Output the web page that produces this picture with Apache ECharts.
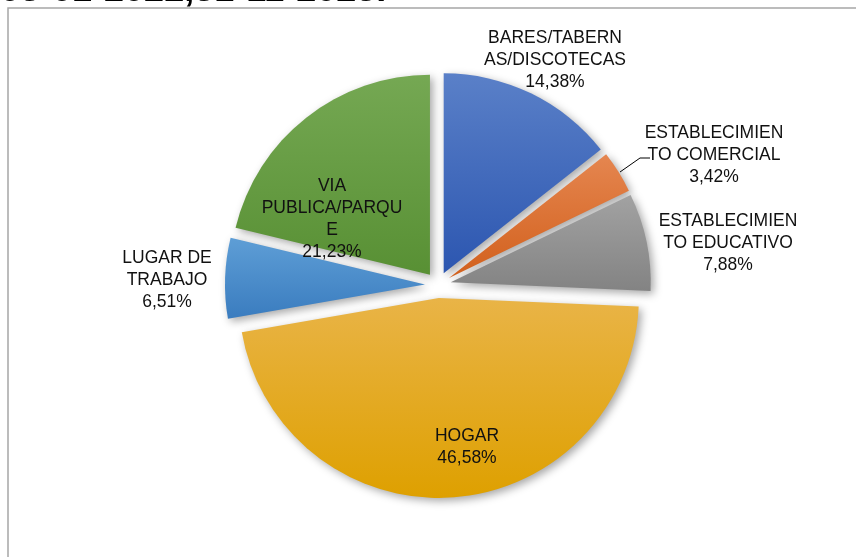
<html>
<head>
    <meta charset="utf-8" />
    <title>Lugar de ocurrencia</title>
    <script src="https://cdn.jsdelivr.net/npm/echarts@6/dist/echarts.min.js"></script>
    <style>
        body { margin: 0; background: #fff; }
        #chart { width: 856px; height: 557px; }
    </style>
</head>
<body>
    <div id="chart"></div>
    <script type="text/javascript">
        // data
        var headerText = '03-01-2022,31-11-2023.';
        var categories = ['BARES/TABERNAS/DISCOTECAS', 'ESTABLECIMIENTO COMERCIAL', 'ESTABLECIMIENTO EDUCATIVO',
                          'HOGAR', 'LUGAR DE TRABAJO', 'VIA PUBLICA/PARQUE'];
        var wrappedNames = ['BARES/TABERN\nAS/DISCOTECAS', 'ESTABLECIMIEN\nTO COMERCIAL', 'ESTABLECIMIEN\nTO EDUCATIVO',
                            'HOGAR', 'LUGAR DE\nTRABAJO', 'VIA\nPUBLICA/PARQU\nE'];
        var percents = [14.38, 3.42, 7.88, 46.58, 6.51, 21.23];

        // gradient colours per slice (top, bottom)
        var sliceColors = [
            ['#5a80c8', '#2c56b0'],
            ['#e58650', '#d2601c'],
            ['#a2a2a2', '#838383'],
            ['#e9b447', '#dea000'],
            ['#5e9ed6', '#3a7cbf'],
            ['#75a853', '#589034']
        ];
        var labelInside = [false, false, false, true, false, true];
        // centre of each label block
        var labelSpots = [
            { x: 555, y: 60 },
            { x: 714, y: 155 },
            { x: 728, y: 243 },
            { x: 467, y: 447 },
            { x: 167, y: 280 },
            { x: 332, y: 219 }
        ];

        var pieCenter = [438, 285];
        var pieRadius = 200;
        var explode = 13;

        var chart = echarts.init(document.getElementById('chart'));

        var total = percents.reduce(function (a, b) { return a + b; }, 0);

        // one series per slice so each one can be pulled out from the centre
        var seriesList = [];
        var cum = 0;
        categories.forEach(function (cat, k) {
            var mid = (cum + percents[k] / 2) / total * Math.PI * 2;
            cum += percents[k];
            var data = categories.map(function (name, i) {
                if (i !== k) {
                    return {
                        name: name,
                        value: percents[i],
                        itemStyle: { color: 'rgba(0,0,0,0)', shadowBlur: 0, shadowColor: 'rgba(0,0,0,0)' },
                        label: { show: false },
                        labelLine: { show: false }
                    };
                }
                return {
                    name: name,
                    value: percents[i],
                    itemStyle: {
                        color: new echarts.graphic.LinearGradient(0, 0, 0, 1, [
                            { offset: 0, color: sliceColors[i][0] },
                            { offset: 1, color: sliceColors[i][1] }
                        ])
                    },
                    label: { show: true, position: labelInside[i] ? 'inside' : 'outside' },
                    labelLine: { show: i === 1 }
                };
            });
            seriesList.push({
                type: 'pie',
                center: [pieCenter[0] + Math.sin(mid) * explode, pieCenter[1] - Math.cos(mid) * explode],
                radius: pieRadius,
                startAngle: 90,
                clockwise: true,
                silent: true,
                avoidLabelOverlap: false,
                emphasis: { disabled: true },
                itemStyle: {
                    shadowBlur: 8,
                    shadowOffsetX: 3,
                    shadowOffsetY: 3,
                    shadowColor: 'rgba(0, 0, 0, 0.35)'
                },
                label: {
                    color: '#111',
                    fontFamily: '"Liberation Sans", Arial, sans-serif',
                    fontSize: 17.5,
                    lineHeight: 22,
                    align: 'center',
                    formatter: function (p) {
                        return wrappedNames[p.dataIndex] + '\n' +
                            p.value.toFixed(2).replace('.', ',') + '%';
                    }
                },
                labelLine: {
                    length: 10,
                    length2: 10,
                    lineStyle: { color: '#000', width: 1 }
                },
                labelLayout: function (params) {
                    var spot = labelSpots[params.dataIndex];
                    var out = {
                        x: spot.x,
                        y: spot.y,
                        align: 'center',
                        verticalAlign: 'middle'
                    };
                    if (params.dataIndex === 1) {
                        out.labelLinePoints = [[620, 172], [640, 158], [650, 158]];
                    }
                    return out;
                },
                data: data
            });
        });

        var option = {
            animation: false,
            graphic: [
                {
                    type: 'rect',
                    shape: { x: 8, y: 8, width: 900, height: 600 },
                    style: { fill: 'none', stroke: '#a6a6a6', lineWidth: 1.5 }
                },
                {
                    type: 'text',
                    x: 0,
                    y: -9,
                    style: {
                        text: headerText,
                        fill: '#000',
                        verticalAlign: 'middle',
                        fontFamily: 'Liberation Sans',
                        fontWeight: 'bold',
                        fontSize: 36
                    }
                }
            ],
            series: seriesList
        };
        chart.setOption(option);
    </script>
</body>
</html>
